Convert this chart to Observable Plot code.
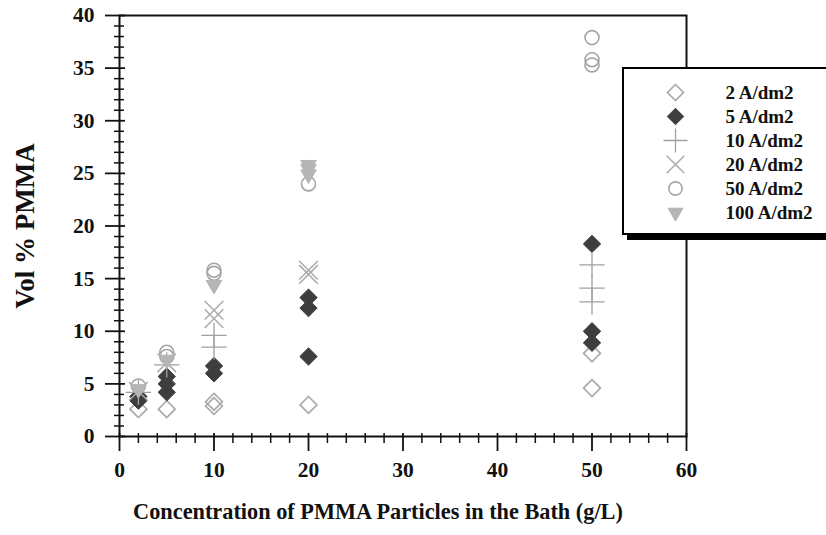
<!DOCTYPE html>
<html><head><meta charset="utf-8">
<script src="https://cdn.jsdelivr.net/npm/d3@7"></script>
<script src="https://cdn.jsdelivr.net/npm/@observablehq/plot@0.6"></script>
<style>
html,body{margin:0;padding:0;background:#fff;overflow:hidden;}
#wrap{position:relative;width:826px;height:535px;overflow:hidden;}
#legend{position:absolute;left:622px;top:67px;width:212px;height:164px;border:2px solid #000;background:#fff;box-shadow:5px 5px 0 #000;}
#legend svg{display:block;}
</style></head><body>
<div id="wrap"><div id="chart"></div><div id="legend"></div></div>
<script>
// ---- data ----
const seriesNames = ["2 A/dm2", "5 A/dm2", "10 A/dm2", "20 A/dm2", "50 A/dm2", "100 A/dm2"];

const conc2A = [2, 5, 10, 10, 20, 50, 50];
const vol2A  = [2.6, 2.6, 3.3, 2.9, 3.0, 7.9, 4.6];

const conc5A = [2, 2, 5, 5, 5, 10, 10, 20, 20, 20, 50, 50, 50];
const vol5A  = [3.4, 3.8, 4.2, 5.0, 5.7, 6.0, 6.7, 13.2, 12.2, 7.6, 18.3, 10.0, 8.9];

const conc10A = [2, 5, 10, 10, 50, 50, 50];
const vol10A  = [4.2, 6.8, 9.6, 8.5, 16.3, 14.1, 12.8];

const conc20A = [2, 5, 10, 10, 20, 20];
const vol20A  = [4.3, 7.0, 12.0, 11.2, 15.8, 15.4];

const conc50A = [2, 5, 5, 10, 10, 20, 50, 50, 50];
const vol50A  = [4.8, 8.0, 7.6, 15.8, 15.5, 24.0, 37.9, 35.8, 35.3];

const conc100A = [2, 5, 10, 20, 20, 20];
const vol100A  = [4.5, 7.3, 14.4, 25.8, 25.4, 24.9];

const xTicks = [0, 10, 20, 30, 40, 50, 60];
const xMinorTicks = [2, 4, 6, 8, 12, 14, 16, 18, 22, 24, 26, 28, 32, 34, 36, 38, 42, 44, 46, 48, 52, 54, 56, 58];
const yTicks = [0, 5, 10, 15, 20, 25, 30, 35, 40];
const yMinorTicks = d3.range(1, 40).filter(v => v % 5 !== 0);

const xTitle = "Concentration of PMMA Particles in the Bath (g/L)";
const yTitle = "Vol % PMMA";

// ---- styles ----
const seriesData = {
  "2 A/dm2": [conc2A, vol2A],
  "5 A/dm2": [conc5A, vol5A],
  "10 A/dm2": [conc10A, vol10A],
  "20 A/dm2": [conc20A, vol20A],
  "50 A/dm2": [conc50A, vol50A],
  "100 A/dm2": [conc100A, vol100A]
};
const styles = {
  "2 A/dm2":   {symbol: "diamond2", fill: "none", stroke: "#ababab", strokeWidth: 1.7, r: 7.6},
  "5 A/dm2":   {symbol: "diamond2", fill: "#3e3e3e", stroke: "#3e3e3e", strokeWidth: 1, r: 7.8},
  "10 A/dm2":  {symbol: "plus", fill: "none", stroke: "#a0a0a0", strokeWidth: 1.3, r: 8.2},
  "20 A/dm2":  {symbol: "times", fill: "none", stroke: "#ababab", strokeWidth: 1.5, r: 8.5},
  "50 A/dm2":  {symbol: "circle", fill: "none", stroke: "#a5a5a5", strokeWidth: 1.6, r: 7},
  "100 A/dm2": {symbol: "triangle", fill: "#b5b5b5", stroke: "#b5b5b5", strokeWidth: 1, r: 5.8, rotate: 180}
};
const FONT = "'Liberation Serif', 'Times New Roman', serif";
const INK = "#111";

const dotMarks = seriesNames.map(name => {
  const [xs, ys] = seriesData[name];
  const rows = xs.map((x, i) => ({x, y: ys[i]}));
  return Plot.dot(rows, {x: "x", y: "y", ...styles[name]});
});

const chart = Plot.plot({
  width: 826,
  height: 535,
  marginLeft: 119,
  marginRight: 140,
  marginTop: 15,
  marginBottom: 99,
  style: {fontFamily: FONT, fontWeight: "bold", background: "#fff", color: INK},
  x: {domain: [0, 60], axis: null},
  y: {domain: [0, 40], axis: null},
  marks: [
    // minor & major ticks (crossing the axis lines)
    Plot.axisY({ticks: yMinorTicks, tickSize: 10, dx: 5, fill: "none", stroke: INK, strokeWidth: 1.5, label: null}),
    Plot.axisY({ticks: yTicks, tickSize: 20, dx: 6, fill: "none", stroke: INK, strokeWidth: 1.8, label: null}),
    Plot.axisX({ticks: xMinorTicks, tickSize: 10, dy: -3, fill: "none", stroke: INK, strokeWidth: 1.5, label: null}),
    Plot.axisX({ticks: xTicks, tickSize: 18, dy: -3, fill: "none", stroke: INK, strokeWidth: 1.8, label: null}),
    // tick labels
    Plot.axisY({ticks: yTicks, tickSize: 0, tickPadding: 25, stroke: "none", fill: INK, fontSize: 21.5, fontWeight: "bold", label: null}),
    Plot.axisX({ticks: xTicks, tickSize: 0, tickPadding: 25, stroke: "none", fill: INK, fontSize: 21.5, fontWeight: "bold", label: null}),
    Plot.frame({stroke: INK, strokeWidth: 2}),
    ...dotMarks,
    Plot.text([xTitle], {text: d => d, frameAnchor: "bottom", dy: 82, dx: -25, textAnchor: "middle", fontSize: 22.3, fontWeight: "bold", fill: INK}),
    Plot.text([yTitle], {text: d => d, frameAnchor: "left", dx: -94, textAnchor: "middle", lineAnchor: "middle", rotate: -90, fontSize: 27, fontWeight: "bold", fill: INK})
  ]
});
document.getElementById("chart").appendChild(chart);

// ---- legend ----
const legendStyles = Object.fromEntries(seriesNames.map(n => [n, {...styles[n], r: styles[n].r * 0.95}]));
const legend = Plot.plot({
  width: 212,
  height: 164,
  margin: 0,
  style: {fontFamily: FONT, fontWeight: "bold", background: "#fff", color: INK},
  x: {domain: [0, 1], range: [51, 101], axis: null},
  y: {type: "point", padding: 0, domain: seriesNames, range: [23, 143], axis: null},
  marks: [
    ...seriesNames.map(n => Plot.dot([n], {x: () => 0, y: d => d, ...legendStyles[n]})),
    Plot.text(seriesNames, {x: () => 1, y: d => d, text: d => d, textAnchor: "start", fontSize: 19, fontWeight: "bold", fill: INK})
  ]
});
document.getElementById("legend").appendChild(legend);
</script>
</body></html>
